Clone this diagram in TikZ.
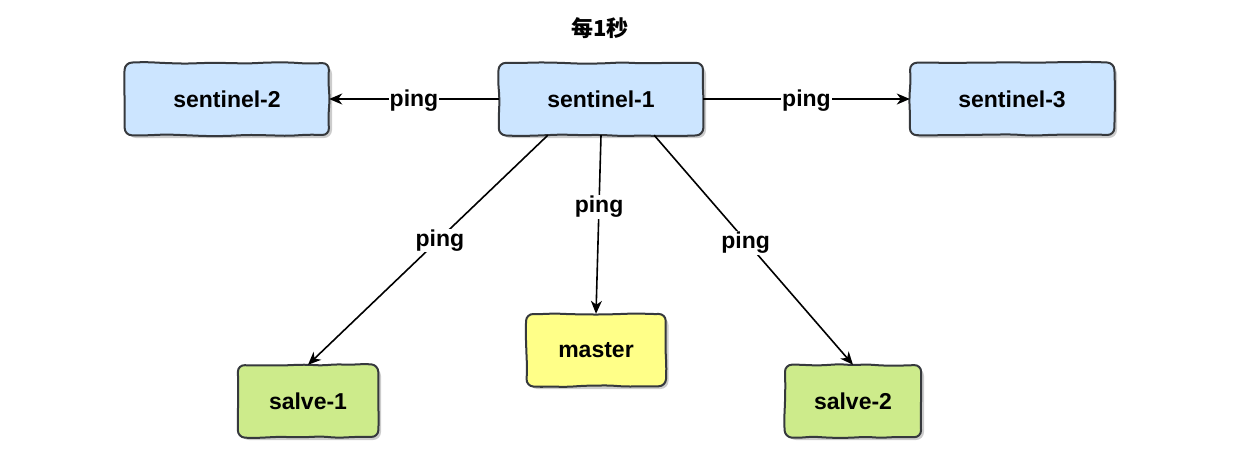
\documentclass[tikz,border=0pt]{standalone}
\usepackage{fontspec}
\setmainfont{Liberation Sans}
\newfontfamily\cjk{Noto Sans CJK SC}
\usetikzlibrary{arrows.meta,shadows,calc}
\definecolor{sblue}{HTML}{CCE5FF}
\definecolor{syellow}{HTML}{FFFF88}
\definecolor{sgreen}{HTML}{CDEB8B}
\definecolor{sline}{HTML}{36393D}
\tikzset{
  box/.style={rounded corners=8pt, minimum height=72pt,
    inner sep=0pt, font=\fontsize{23}{27}\selectfont\bfseries,
    drop shadow={shadow xshift=3pt, shadow yshift=-3pt, opacity=0.2, fill=black}},
  sentbox/.style={box, fill=sblue, minimum width=204pt},
  skline/.style={draw=sline, line width=2pt, rounded corners=7pt},
  conn/.style={-{Stealth[length=13pt, width=11pt, inset=4pt]}, line width=1.6pt, black},
  lbl/.style={fill=white, inner sep=1pt, yshift=-2pt, font=\fontsize{23}{27}\selectfont\bfseries}
}
\newcommand\skbox[1]{%
  \draw[skline] (#1.north west)
    \foreach \t in {0.1,0.2,0.3,0.4,0.5,0.6,0.7,0.8,0.9} { -- ($(#1.north west)!\t!(#1.north east)+(0,{rand*0.9})$) }
    -- (#1.north east)
    \foreach \t in {0.25,0.5,0.75} { -- ($(#1.north east)!\t!(#1.south east)+({rand*0.9},0)$) }
    -- (#1.south east)
    \foreach \t in {0.1,0.2,0.3,0.4,0.5,0.6,0.7,0.8,0.9} { -- ($(#1.south east)!\t!(#1.south west)+(0,{rand*0.9})$) }
    -- (#1.south west)
    \foreach \t in {0.25,0.5,0.75} { -- ($(#1.south west)!\t!(#1.north west)+({rand*0.9},0)$) }
    -- cycle;}
\begin{document}
\begin{tikzpicture}[x=1pt, y=-1pt]
\pgfmathsetseed{7}
\useasboundingbox (0,0) rectangle (1246,472);
\node[font=\cjk\fontsize{22}{26}\selectfont\bfseries] (title) at (600,28) {每1秒};
\node[sentbox] (s1) at (601,99) {sentinel-1};
\node[sentbox] (s2) at (227,99) {sentinel-2};
\node[sentbox] (s3) at (1012,99) {sentinel-3};
\node[box, fill=syellow, minimum width=139pt] (m) at (596,350) {master};
\node[box, fill=sgreen, minimum width=140pt] (sl1) at (308,401) {salve-1};
\node[box, fill=sgreen, minimum width=136pt] (sl2) at (853,401) {salve-2};
\skbox{s1}\skbox{s2}\skbox{s3}\skbox{m}\skbox{sl1}\skbox{sl2}
\draw[conn] (s1.west) -- node[lbl] {ping} (s2.east);
\draw[conn] (s1.east) -- node[lbl] {ping} (s3.west);
\coordinate (a1) at ($(s1.south west)!0.24!(s1.south east)$);
\coordinate (a3) at ($(s1.south west)!0.76!(s1.south east)$);
\draw[conn] (a1) -- node[lbl, pos=0.45] {ping} (sl1.north);
\draw[conn] (s1.south) -- node[lbl, pos=0.39] {ping} (m.north);
\draw[conn] (a3) -- node[lbl, pos=0.46] {ping} (sl2.north);
\end{tikzpicture}
\end{document}
